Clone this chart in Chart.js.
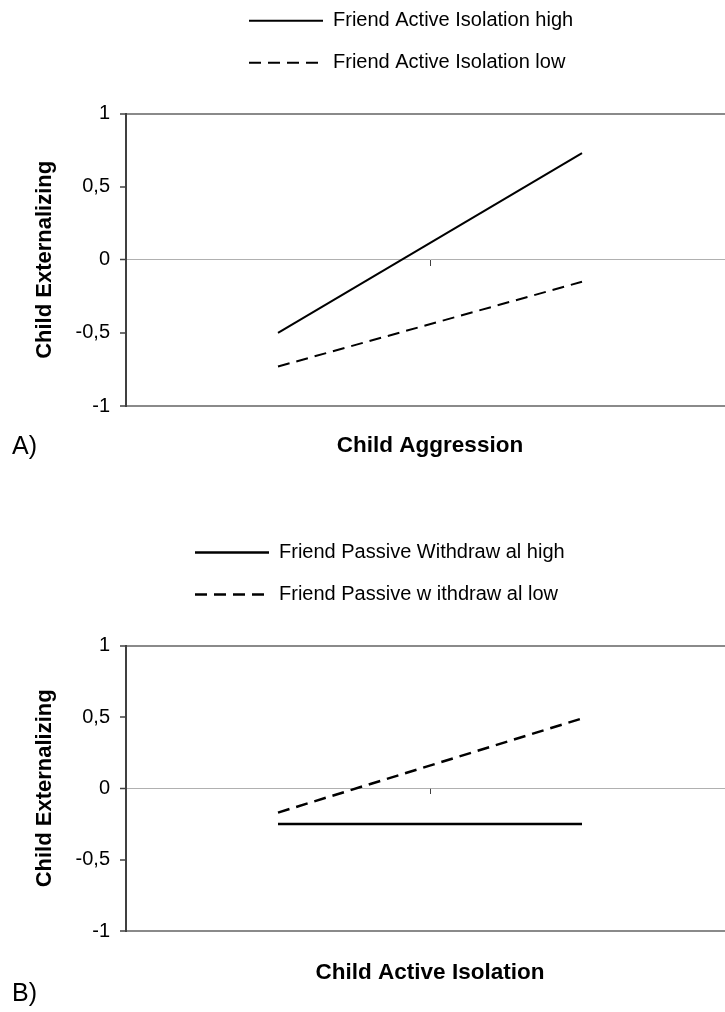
<!DOCTYPE html>
<html>
<head>
<meta charset="utf-8">
<script src="https://cdn.jsdelivr.net/npm/chart.js@4.4.1/dist/chart.umd.min.js"></script>
<style>
  body { margin: 0; background: #fff; overflow: hidden; }
  #page { position: relative; width: 725px; height: 1012px; overflow: hidden; background: #fff; }
  canvas { position: absolute; left: 0; }
  .panel { position: absolute; left: 12px; font: 25px "Liberation Sans", Arial, sans-serif; line-height: 30px; color: #000; }
</style>
</head>
<body>
<div id="page">
  <canvas id="chartA" width="740" height="470" style="top:0"></canvas>
  <canvas id="chartB" width="740" height="500" style="top:500px"></canvas>
  <div class="panel" style="top:430px">A)</div>
  <div class="panel" style="top:977px">B)</div>
</div>
<script>
const categories = ["low", "high"];
const yTickValues = [-1, -0.5, 0, 0.5, 1];
const yTickLabels = ["-1", "-0,5", "0", "0,5", "1"];

const aLabels = ["Friend Active Isolation high", "Friend Active Isolation low"];
const aHigh = [-0.5, 0.73];
const aLow = [-0.73, -0.15];

const bLabels = ["Friend Passive Withdraw al high", "Friend Passive w ithdraw al low"];
const bHigh = [-0.25, -0.25];
const bLow = [-0.17, 0.49];

const FONT = "'Liberation Sans', Arial, Helvetica, sans-serif";
const LEGEND_SIZE = 20;
const LEGEND_PAD = 22;

Chart.defaults.font.family = FONT;
Chart.defaults.color = "#000";

// mueve la leyenda a donde esta en la figura original
const legendPlace = {
  id: "legendPlace",
  afterLayout(chart, args, opts) {
    const lg = chart.legend;
    if (!lg) return;
    lg.left = opts.x - LEGEND_PAD;
    lg.right = lg.left + lg.width;
    lg.top = opts.y - LEGEND_PAD - LEGEND_SIZE / 2;
    lg.bottom = lg.top + lg.height;
  }
};

// con usePointStyle la leyenda pierde el borderDash, se lo devolvemos
function etiquetas(chart) {
  const items = Chart.defaults.plugins.legend.labels.generateLabels(chart);
  items.forEach((it) => {
    const ds = chart.data.datasets[it.datasetIndex];
    it.lineDash = ds.borderDash || [];
    it.lineWidth = ds.borderWidth;
    it.strokeStyle = ds.borderColor;
  });
  return items;
}

function gridColor(c) {
  const v = c.tick ? c.tick.value : null;
  if (v === 0) return "#b0b0b0";
  if (v === 1 || v === -1) return "#8a8a8a";
  return "rgba(0,0,0,0)";
}

function dibujar(id, p) {
  return new Chart(document.getElementById(id), {
    type: "line",
    data: {
      labels: categories,
      datasets: [
        {
          label: p.labels[0],
          data: p.high,
          borderColor: "#000",
          backgroundColor: "#000",
          borderWidth: p.widths[0],
          pointRadius: 0,
          tension: 0,
        },
        {
          label: p.labels[1],
          data: p.low,
          borderColor: "#000",
          backgroundColor: "#000",
          borderWidth: p.widths[1],
          borderDash: [12, 7],
          pointRadius: 0,
          tension: 0,
        },
      ],
    },
    options: {
      responsive: false,
      animation: false,
      devicePixelRatio: 1,
      layout: { padding: { top: p.padTop, right: 6, left: 0, bottom: 0 } },
      plugins: {
        tooltip: { enabled: false },
        legend: {
          position: "top",
          align: "start",
          fullSize: false,
          labels: {
            usePointStyle: true,
            pointStyle: "line",
            pointStyleWidth: 74,
            padding: LEGEND_PAD,
            font: { size: LEGEND_SIZE },
            color: "#000",
            generateLabels: etiquetas,
          },
        },
        legendPlace: { x: p.legendX, y: p.legendY },
      },
      scales: {
        x: {
          type: "category",
          position: "bottom",
          offset: true,
          ticks: { display: false },
          grid: { display: false },
          border: { display: false },
          title: {
            display: true,
            text: p.xTitle,
            font: { size: 22.5, weight: "bold" },
            padding: { top: 0, bottom: p.xTitlePad },
          },
          afterFit: (s) => { s.height = p.xHeight; },
        },
        x0: {
          axis: "x",
          type: "category",
          position: { y: 0 },
          offset: true,
          ticks: { display: false },
          grid: {
            offset: true,
            drawOnChartArea: false,
            drawTicks: true,
            tickLength: 6,
            tickWidth: 1,
            tickColor: (c) => (c.index === 1 ? "#404040" : "rgba(0,0,0,0)"),
          },
          border: { display: false },
        },
        y: {
          min: -1,
          max: 1,
          ticks: {
            stepSize: 0.5,
            padding: 10,
            font: { size: 20 },
            color: "#000",
            callback: (v) => yTickLabels[yTickValues.indexOf(v)],
          },
          grid: {
            color: gridColor,
            lineWidth: (c) => (c.tick && c.tick.value === 0 ? 1 : 2),
            tickColor: "#404040",
            tickLength: 6,
            tickWidth: 1.5,
          },
          border: { color: "#404040", width: 2 },
          title: {
            display: true,
            text: "Child Externalizing",
            font: { size: 22, weight: "bold" },
            padding: { top: 32, bottom: 0 },
          },
          afterFit: (s) => { s.width = 126; },
        },
      },
    },
    plugins: [legendPlace],
  });
}

dibujar("chartA", {
  labels: aLabels, high: aHigh, low: aLow, widths: [2, 2],
  padTop: 19.7, legendX: 249, legendY: 20.7,
  xTitle: "Child Aggression", xHeight: 64, xTitlePad: 10.8,
});

dibujar("chartB", {
  labels: bLabels, high: bHigh, low: bLow, widths: [2.5, 2.5],
  padTop: 51.7, legendX: 195, legendY: 52.5,
  xTitle: "Child Active Isolation", xHeight: 69, xTitlePad: 13.5,
});
</script>
</body>
</html>
